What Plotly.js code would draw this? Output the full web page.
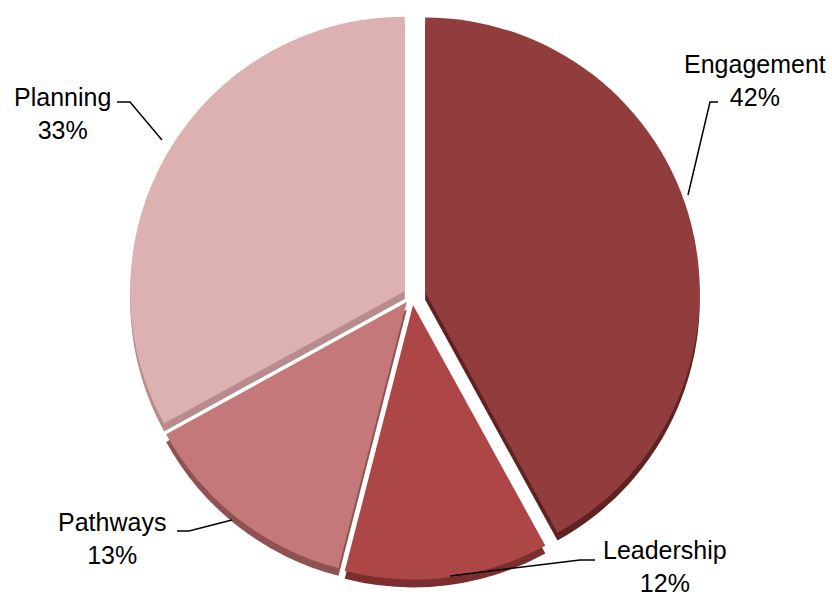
<!DOCTYPE html>
<html><head><meta charset="utf-8">
<script src="https://cdn.plot.ly/plotly-3.0.1.min.js"></script>
<style>body{margin:0;background:#fff}</style>
</head><body><div id="chart" style="width:832px;height:597px"></div>
<script>
const labels = ["Engagement", "Leadership", "Pathways", "Planning"];
const values = [42, 12, 13, 33];
const colors = ["#913d3d", "#ad4747", "#c47879", "#ddb1b1"];
const rimColors = ["#5e2222", "#7a2e2e", "#8f5252", "#b88c8c"];
const pulls = [0.05, 0.035, 0.03, 0.03];

// label positions in pixels (text centre) and leader-line paths
const W = 832, H = 597;
const labelPos = [[755, 80], [665, 566], [112, 538], [62, 113]];
const leader = [
  [[718, 102], [710, 102], [688, 195]],
  [[595, 560], [580, 560], [450, 576]],
  [[177, 531], [189, 531], [232, 520]],
  [[117, 102], [130, 102], [162, 140]]
];
const px = x => x / W, py = y => 1 - y / H;

const dom = {x: [0.13, 0.86], y: [0.022, 0.988]};
const rimDom = {x: dom.x, y: [dom.y[0] - 0.013, dom.y[1] - 0.013]};

const traces = [
  {type: 'pie', labels: labels, values: values, sort: false, direction: 'clockwise', rotation: 0,
   pull: pulls, marker: {colors: rimColors, line: {width: 0}}, textinfo: 'none', hoverinfo: 'skip',
   domain: rimDom, showlegend: false},
  {type: 'pie', labels: labels, values: values, sort: false, direction: 'clockwise', rotation: 0,
   pull: pulls, marker: {colors: colors, line: {width: 0}}, textinfo: 'none',
   domain: dom, showlegend: false}
];

const total = values.reduce((a, b) => a + b, 0);
const annotations = labels.map((l, i) => ({
  x: px(labelPos[i][0]), y: py(labelPos[i][1]), xref: 'paper', yref: 'paper',
  text: l + '<br>' + Math.round(values[i] / total * 100) + '%', showarrow: false,
  font: {family: 'Liberation Sans, Arial, sans-serif', size: 25, color: '#000'},
  align: 'center', xanchor: 'center', yanchor: 'middle'
}));
const shapes = leader.map(p => ({
  type: 'path', xref: 'paper', yref: 'paper',
  path: 'M' + p.map(q => px(q[0]) + ',' + py(q[1])).join(' L'),
  line: {color: '#000', width: 1.5}
}));

Plotly.newPlot('chart', traces, {
  width: W, height: H, margin: {l: 0, r: 0, t: 0, b: 0},
  paper_bgcolor: '#fff', showlegend: false, annotations: annotations, shapes: shapes
}, {displayModeBar: false, staticPlot: true});
</script></body></html>
